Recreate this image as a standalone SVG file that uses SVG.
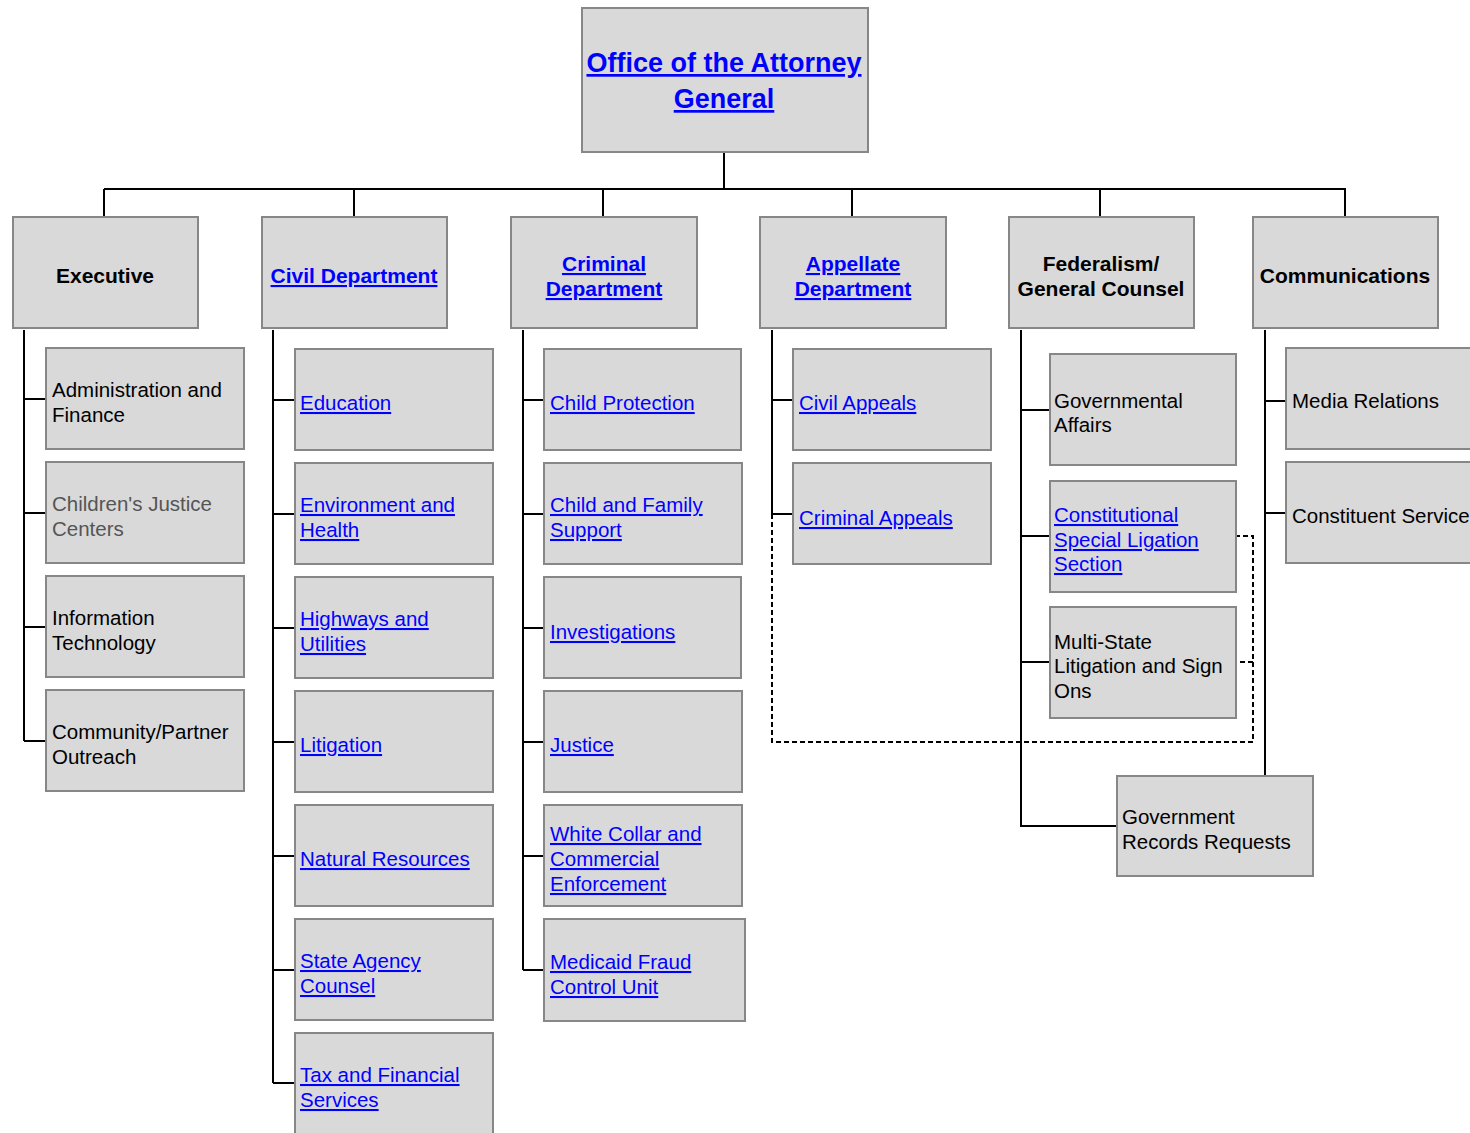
<svg xmlns="http://www.w3.org/2000/svg" width="1470" height="1133" viewBox="0 0 1470 1133">
<style>
.b{fill:#d9d9d9;stroke:#878787;stroke-width:2}
.c{fill:none;stroke:#000;stroke-width:2}
.d{fill:none;stroke:#000;stroke-width:2;stroke-dasharray:5,3}
text{font-family:"Liberation Sans",Arial,sans-serif;font-size:20.5px;fill:#000}
.h{font-weight:bold;text-anchor:middle;font-size:21px}
.t{font-size:27px}
.l{fill:#0000ff;text-decoration:underline}
.g{fill:#555}
</style>
<rect width="1470" height="1133" fill="#fff"/>
<g id="connectors">
<path class="c" d="M724 152V189M104 189H1346M104 189V217M354 189V217M603 189V217M852 189V217M1100 189V217M1345 189V217"/>
<path class="c" d="M24 330V741M24 399H46M24 513H46M24 627H46M24 741H46"/>
<path class="c" d="M273 330V1083M273 400H295M273 514H295M273 628H295M273 742H295M273 856H295M273 970H295M273 1083H295"/>
<path class="c" d="M523 330V970M523 400H544M523 514H544M523 628H544M523 742H544M523 856H544M523 970H544"/>
<path class="c" d="M772 330V514M772 400H793M772 514H793"/>
<path class="d" d="M772 506V742H1253V536H1237M1253 662H1237"/>
<path class="c" d="M1021 330V826H1117M1021 410H1050M1021 536H1050M1021 662H1050"/>
<path class="c" d="M1265 330V776M1265 401H1286M1265 513H1286"/>
</g>
<g id="oag"><rect class="b" x="582" y="8" width="286" height="144"/><text class="h t l" x="724" y="72">Office of the Attorney</text><text class="h t l" x="724" y="108">General</text></g>
<g id="executive"><rect class="b" x="13" y="217" width="185" height="111"/><text class="h" x="105" y="283">Executive</text></g>
<g id="civil"><rect class="b" x="262" y="217" width="185" height="111"/><text class="h l" x="354" y="283">Civil Department</text></g>
<g id="criminal"><rect class="b" x="511" y="217" width="186" height="111"/><text class="h l" x="604" y="271">Criminal</text><text class="h l" x="604" y="296">Department</text></g>
<g id="appellate"><rect class="b" x="760" y="217" width="186" height="111"/><text class="h l" x="853" y="271">Appellate</text><text class="h l" x="853" y="296">Department</text></g>
<g id="federalism"><rect class="b" x="1009" y="217" width="185" height="111"/><text class="h" x="1101" y="271">Federalism/</text><text class="h" x="1101" y="296">General Counsel</text></g>
<g id="communications"><rect class="b" x="1253" y="217" width="185" height="111"/><text class="h" x="1345" y="283">Communications</text></g>

<g id="admin"><rect class="b" x="46" y="348" width="198" height="101"/><text x="52" y="397">Administration and</text><text x="52" y="422">Finance</text></g>
<g id="cjc"><rect class="b" x="46" y="462" width="198" height="101"/><text class="g" x="52" y="511">Children's Justice</text><text class="g" x="52" y="536">Centers</text></g>
<g id="it"><rect class="b" x="46" y="576" width="198" height="101"/><text x="52" y="625">Information</text><text x="52" y="650">Technology</text></g>
<g id="outreach"><rect class="b" x="46" y="690" width="198" height="101"/><text x="52" y="739">Community/Partner</text><text x="52" y="764">Outreach</text></g>

<g id="education"><rect class="b" x="295" y="349" width="198" height="101"/><text class="l" x="300" y="410">Education</text></g>
<g id="envhealth"><rect class="b" x="295" y="463" width="198" height="101"/><text class="l" x="300" y="512">Environment and</text><text class="l" x="300" y="537">Health</text></g>
<g id="highways"><rect class="b" x="295" y="577" width="198" height="101"/><text class="l" x="300" y="626">Highways and</text><text class="l" x="300" y="651">Utilities</text></g>
<g id="litigation"><rect class="b" x="295" y="691" width="198" height="101"/><text class="l" x="300" y="752">Litigation</text></g>
<g id="natres"><rect class="b" x="295" y="805" width="198" height="101"/><text class="l" x="300" y="866">Natural Resources</text></g>
<g id="stateagency"><rect class="b" x="295" y="919" width="198" height="101"/><text class="l" x="300" y="968">State Agency</text><text class="l" x="300" y="993">Counsel</text></g>
<g id="tax"><rect class="b" x="295" y="1033" width="198" height="110"/><text class="l" x="300" y="1082">Tax and Financial</text><text class="l" x="300" y="1107">Services</text></g>

<g id="childprot"><rect class="b" x="544" y="349" width="197" height="101"/><text class="l" x="550" y="410">Child Protection</text></g>
<g id="childfamily"><rect class="b" x="544" y="463" width="198" height="101"/><text class="l" x="550" y="512">Child and Family</text><text class="l" x="550" y="537">Support</text></g>
<g id="investigations"><rect class="b" x="544" y="577" width="197" height="101"/><text class="l" x="550" y="639">Investigations</text></g>
<g id="justice"><rect class="b" x="544" y="691" width="198" height="101"/><text class="l" x="550" y="752">Justice</text></g>
<g id="whitecollar"><rect class="b" x="544" y="805" width="198" height="101"/><text class="l" x="550" y="841">White Collar and</text><text class="l" x="550" y="866">Commercial</text><text class="l" x="550" y="891">Enforcement</text></g>
<g id="medicaid"><rect class="b" x="544" y="919" width="201" height="102"/><text class="l" x="550" y="969">Medicaid Fraud</text><text class="l" x="550" y="994">Control Unit</text></g>

<g id="civilappeals"><rect class="b" x="793" y="349" width="198" height="101"/><text class="l" x="799" y="410">Civil Appeals</text></g>
<g id="criminalappeals"><rect class="b" x="793" y="463" width="198" height="101"/><text class="l" x="799" y="525">Criminal Appeals</text></g>

<g id="govaffairs"><rect class="b" x="1050" y="354" width="186" height="111"/><text x="1054" y="408">Governmental</text><text x="1054" y="432">Affairs</text></g>
<g id="constitutional"><rect class="b" x="1050" y="481" width="186" height="111"/><text class="l" x="1054" y="522">Constitutional</text><text class="l" x="1054" y="547">Special Ligation</text><text class="l" x="1054" y="571">Section</text></g>
<g id="multistate"><rect class="b" x="1050" y="607" width="186" height="111"/><text x="1054" y="649">Multi-State</text><text x="1054" y="673">Litigation and Sign</text><text x="1054" y="698">Ons</text></g>
<g id="records"><rect class="b" x="1117" y="776" width="196" height="100"/><text x="1122" y="824">Government</text><text x="1122" y="849">Records Requests</text></g>

<g id="media"><rect class="b" x="1286" y="348" width="198" height="101"/><text x="1292" y="408">Media Relations</text></g>
<g id="constituent"><rect class="b" x="1286" y="462" width="198" height="101"/><text x="1292" y="523">Constituent Service</text></g>
</svg>
